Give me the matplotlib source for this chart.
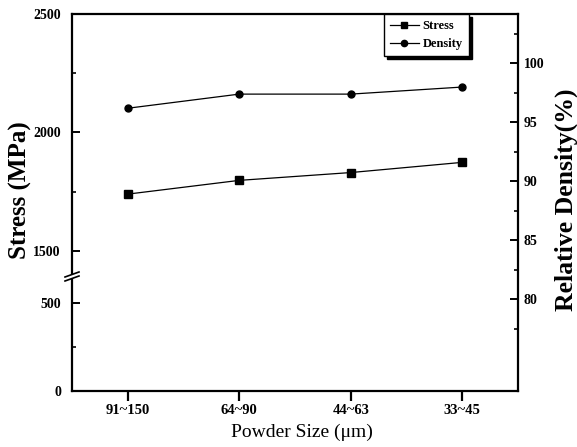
import matplotlib
matplotlib.use('Agg')
import matplotlib.pyplot as plt
from matplotlib.lines import Line2D
from matplotlib.patches import Polygon
from matplotlib.ticker import MultipleLocator

plt.rcParams['font.family'] = ['Liberation Serif', 'DejaVu Serif']

# data
powder_size = ['91~150', '64~90', '44~63', '33~45']
stress = [1740, 1798, 1831, 1874]          # MPa
density = [96.2, 97.4, 97.4, 98.0]         # %

W, H = 577, 447
fig = plt.figure(figsize=(W / 100, H / 100), dpi=100)

# pixel box of the plot frame
x0, x1 = 72, 518
y_top, y_bot = 14, 391
y_1500, y_500 = 251, 303


def box(top, bottom):
    return [x0 / W, (H - bottom) / H, (x1 - x0) / W, (bottom - top) / H]


# main frame + relative density on the right
ax = fig.add_axes(box(y_top, y_bot))
# left broken axis: upper part 1500-2500, lower part 0-500
ax_top = fig.add_axes(box(y_top, y_1500), sharex=ax)
ax_bot = fig.add_axes(box(y_500, y_bot), sharex=ax)

xs = list(range(len(powder_size)))

for s in ax.spines.values():
    s.set_linewidth(1.6)
ax.set_xlim(-0.5, 3.5)
ax.set_ylim(72.2, 104.2)
ax.yaxis.tick_right()
ax.yaxis.set_label_position('right')
ax.set_yticks([80, 85, 90, 95, 100])
ax.set_yticks([77.5, 82.5, 87.5, 92.5, 97.5, 102.5], minor=True)
ax.tick_params(axis='y', which='major', direction='in', length=6, width=1.4,
               labelsize=10, pad=4)
ax.tick_params(axis='y', which='minor', direction='in', length=3, width=1.2)
ax.tick_params(axis='x', direction='out', length=7, width=1.6, labelsize=10.5, pad=2)
ax.set_xticks(xs)
ax.set_xticklabels(powder_size, fontweight='bold')
for lab in ax.get_yticklabels():
    lab.set_fontweight('bold')
ax.plot(xs, density, color='black', lw=0.9, marker='o', markersize=5)

for a, lo, hi, minor in [(ax_top, 1500, 2500, 250), (ax_bot, 0, 500, 250)]:
    a.patch.set_visible(False)
    for s in a.spines.values():
        s.set_visible(False)
    a.set_ylim(lo, hi)
    a.yaxis.set_major_locator(MultipleLocator(500))
    a.yaxis.set_minor_locator(MultipleLocator(minor))
    a.tick_params(axis='y', which='major', direction='in', length=6, width=1.4,
                  labelsize=10, pad=8)
    a.tick_params(axis='y', which='minor', direction='in', length=3, width=1.2)
    a.tick_params(axis='x', bottom=False, labelbottom=False)
    for lab in a.get_yticklabels():
        lab.set_fontweight('bold')
ax_top.set_yticks([1500, 2000, 2500])
ax_bot.set_yticks([0, 500])

ax_top.plot(xs, stress, color='black', lw=0.9, marker='s', markersize=5.5)

# axis break on the left spine
yb = 278
gap = Polygon([(65 / W, (H - yb + 1) / H), (79 / W, (H - yb + 6) / H),
               (79 / W, (H - yb + 2) / H), (65 / W, (H - yb - 3) / H)],
              closed=True, transform=fig.transFigure, facecolor='white',
              edgecolor='none', zorder=5)
fig.patches.append(gap)
for dy in (1, -3):
    fig.add_artist(Line2D([65 / W, 79 / W], [(H - yb + dy) / H, (H - yb + dy + 5) / H],
                          transform=fig.transFigure, color='black', lw=1.2, zorder=6))

# legend
handles = [Line2D([], [], color='black', lw=0.9, marker='s', markersize=4.5),
           Line2D([], [], color='black', lw=0.9, marker='o', markersize=4.5)]
ax_top.legend(handles, ['Stress', 'Density'], loc='upper right',
              bbox_to_anchor=(0.89, 1.0), bbox_transform=ax.transAxes,
              borderaxespad=0, fancybox=False, edgecolor='black', framealpha=1,
              shadow={'shade': 1, 'alpha': 1},
              prop={'weight': 'bold', 'size': 9}, handlelength=2.3,
              handletextpad=0.3, labelspacing=0.45, borderpad=0.5)

fig.text(20 / W, 1 - 190 / H, 'Stress (MPa)', rotation=90, ha='center', va='center',
         fontsize=18, fontweight='bold')
fig.text(566 / W, 1 - 200 / H, 'Relative Density(%)', rotation=90, ha='center',
         va='center', fontsize=18.5, fontweight='bold')
fig.text(302 / W, 1 - 432 / H, 'Powder Size (μm)', ha='center', va='center', fontsize=14)

fig.savefig('out.png', dpi=100)
